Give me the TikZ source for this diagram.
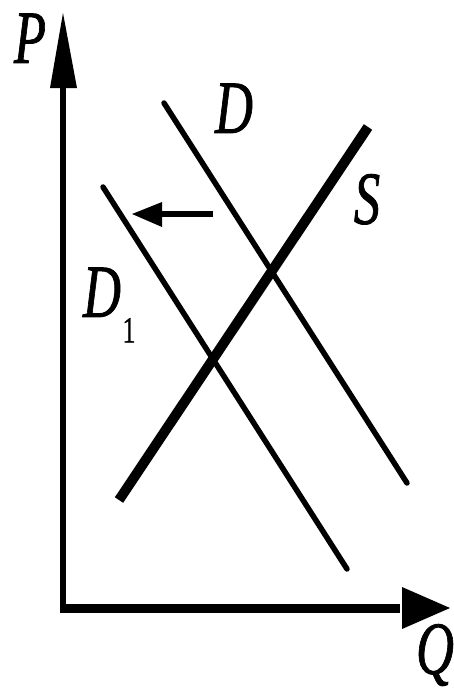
\documentclass[tikz,border=0pt]{standalone}
\usepackage{fontspec}
\setmainfont{Liberation Serif}
\newfontfamily\labfont[FakeBold=1.2]{Liberation Serif}
\newcommand{\biglab}[1]{\scalebox{0.7}[1]{\labfont\fontsize{75}{75}\selectfont\itshape #1}}
\newcommand{\smalllab}[1]{\scalebox{0.7}[1]{\labfont\fontsize{37}{37}\selectfont #1}}
\begin{document}
\begin{tikzpicture}[x=1pt,y=-1pt,
  lab/.style={inner sep=0pt,outer sep=0pt,text height=49.6pt,text depth=0pt,anchor=center},
  sublab/.style={inner sep=0pt,outer sep=0pt,text height=25pt,text depth=0pt,anchor=center},
  demand/.style={line width=5.5pt,line cap=round},
  supply/.style={line width=10pt,line cap=butt},
  head/.style={fill=black,draw=none}]
\useasboundingbox (0,0) rectangle (454,693);
\fill[white] (0,0) rectangle (454,693);
% axes
\coordinate (O) at (63,608);
\coordinate (Ytip) at (63,13);
\coordinate (Ybase) at (63,86);
\coordinate (Xtip) at (450,608);
\coordinate (Xbase) at (400,608);
\draw[line width=6pt] (63,613) -- (Ybase);
\draw[line width=9pt] (60,608) -- (Xbase);
\fill[head] (Ytip) -- (50,88) -- (77,88) -- cycle;
\fill[head] (Xtip) -- (402,587) -- (402,629) -- cycle;
% curves
\coordinate (Dtop) at (164,103);
\coordinate (Dbot) at (407,483);
\coordinate (D1top) at (103,187);
\coordinate (D1bot) at (347,569);
\coordinate (Sbot) at (119,500);
\coordinate (Stop) at (368,127);
\draw[demand] (Dtop) -- (Dbot);
\draw[demand] (D1top) -- (D1bot);
\draw[supply] (Sbot) -- (Stop);
% shift arrow
\coordinate (Atail) at (213,214);
\coordinate (Abase) at (160,214);
\coordinate (Atip) at (132,214);
\draw[line width=6pt] (Atail) -- (Abase);
\fill[head] (Atip) -- (162,202) -- (162,227) -- cycle;
% labels
\node[lab] (P) at (30,38) {\biglab{P}};
\node[lab] (Q) at (435,649) {\biglab{Q}};
\node[lab] (D) at (234,108) {\biglab{D}};
\node[lab] (S) at (367,199) {\biglab{S}};
\node[lab] (D1) at (102,292) {\biglab{D}};
\node[sublab] (D1sub) at (129,330) {\smalllab{1}};
\end{tikzpicture}
\end{document}
